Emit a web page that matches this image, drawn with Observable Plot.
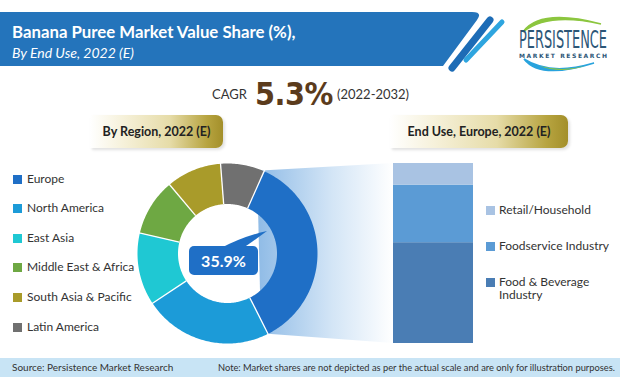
<!DOCTYPE html>
<html>
<head>
<meta charset="utf-8">
<script src="https://cdn.jsdelivr.net/npm/d3@7"></script>
<script src="https://cdn.jsdelivr.net/npm/@observablehq/plot@0.6"></script>
<style>
  html, body { margin: 0; padding: 0; background: #fff; }
  #wrap { position: relative; width: 620px; height: 377px; overflow: hidden; font-family: Lato, "Open Sans", sans-serif; color: #333; }
  .abs { position: absolute; white-space: nowrap; }
  .goldbox { position: absolute; height: 33px; border-radius: 0 7px 7px 0;
    background: linear-gradient(to right, rgba(255,255,255,0) 0%, #f6f1da 25%, #e6dca8 60%, #b7a440 88%, #a38f2a 100%);
    box-shadow: 2px 2px 3px rgba(0,0,0,0.12);
    font-weight: 700; font-size: 12.5px; color: #222; line-height: 33px; text-align: center; }
  .leg { position: absolute; font-size: 12px; color: #333; line-height: 14px; }
  .sq { position: absolute; width: 9px; height: 9px; }
</style>
</head>
<body>
<div id="wrap"></div>
<script>
// ---------- data ----------
const titleText = "Banana Puree Market Value Share (%),";
const subtitleText = "By End Use, 2022 (E)";
const cagrLabel = "CAGR";
const cagrValue = "5.3%";
const cagrPeriod = "(2022-2032)";
const leftPanelTitle = "By Region, 2022 (E)";
const rightPanelTitle = "End Use, Europe, 2022 (E)";
const sourceText = "Source: Persistence Market Research";
const noteText = "Note: Market shares are not depicted as per the actual scale and are only for illustration purposes.";

const regions = ["Europe", "North America", "East Asia", "Middle East & Africa", "South Asia & Pacific", "Latin America"];
const regionShares = [35.9, 23.1, 13.0, 10.2, 9.9, 7.9];
const regionColors = ["#1f6fc6", "#1c9bd8", "#1fc8d3", "#6ea843", "#a99b2a", "#707070"];
const highlightedRegion = "Europe";

const endUses = ["Food & Beverage Industry", "Foodservice Industry", "Retail/Household"];
const endUseShares = [56, 32, 12];
const endUseColors = ["#4a7db4", "#5b9bd5", "#a9c3e3"];
const endUseLegendOrder = ["Retail/Household", "Foodservice Industry", "Food & Beverage Industry"];
const endUseLegendLines = {"Retail/Household": ["Retail/Household"], "Foodservice Industry": ["Foodservice Industry"], "Food & Beverage Industry": ["Food & Beverage", "Industry"]};

// ---------- layout ----------
const wrap = document.getElementById("wrap");
const W = 620, H = 377;
const cx = 226.5, cy = 253, R = 90, innerFrac = 0.55;
const startDeg = 24;
const bar = {left: 393, top: 163, width: 80, height: 180};

function el(tag, cls, style, text) {
  const e = document.createElement(tag);
  if (cls) e.className = cls;
  Object.assign(e.style, style || {});
  if (text != null) e.textContent = text;
  wrap.appendChild(e);
  return e;
}

// donut data
const total = d3.sum(regionShares);
let acc = 0;
const slices = regions.map((r, i) => {
  const a0 = startDeg + acc / total * 360;
  acc += regionShares[i];
  const a1 = startDeg + acc / total * 360;
  return {region: r, share: regionShares[i], a0, a1};
});
const rad = d => d * Math.PI / 180;
const pts = [];
for (const s of slices) {
  const n = Math.max(2, Math.ceil(s.a1 - s.a0));
  for (let k = 0; k <= n; k++) { const a = s.a0 + (s.a1 - s.a0) * k / n; pts.push({region: s.region, x: Math.sin(rad(a)), y: Math.cos(rad(a))}); }
  for (let k = n; k >= 0; k--) { const a = s.a0 + (s.a1 - s.a0) * k / n; pts.push({region: s.region, x: innerFrac * Math.sin(rad(a)), y: innerFrac * Math.cos(rad(a))}); }
}
const seps = slices.map(s => ({x1: innerFrac * Math.sin(rad(s.a0)), y1: innerFrac * Math.cos(rad(s.a0)), x2: 1.02 * Math.sin(rad(s.a0)), y2: 1.02 * Math.cos(rad(s.a0))}));

// ---------- decoration svg (banner, connector, logo) ----------
const hi = slices.find(s => s.region === highlightedRegion);
const pA = [cx + R * Math.sin(rad(hi.a0)), cy - R * Math.cos(rad(hi.a0))];
const pB = [cx + R * Math.sin(rad(hi.a1)), cy - R * Math.cos(rad(hi.a1))];
const deco = d3.create("svg").attr("width", W).attr("height", H).style("position", "absolute").style("left", 0).style("top", 0);
const defs = deco.append("defs");
const g1 = defs.append("linearGradient").attr("id", "conn").attr("x1", 0).attr("x2", 1).attr("y1", 0).attr("y2", 0);
g1.append("stop").attr("offset", "0%").attr("stop-color", "#8fbbe6");
g1.append("stop").attr("offset", "55%").attr("stop-color", "#d3e5f6");
g1.append("stop").attr("offset", "100%").attr("stop-color", "#ffffff");
deco.append("polygon").attr("points", [[pA[0] - 6, pA[1]], [bar.left, bar.top], [bar.left, bar.top + bar.height], [pB[0] - 6, pB[1]]].map(p => p.join(",")).join(" ")).attr("fill", "url(#conn)");
// banner
deco.append("path").attr("d", "M0,12 L472,12 Q483,12 477,20 L443,66 L0,66 Z").attr("fill", "#2474bb");
deco.append("line").attr("x1", 452).attr("y1", 68).attr("x2", 490).attr("y2", 20).attr("stroke", "#1d6cb6").attr("stroke-width", 7).attr("stroke-linecap", "round");
deco.append("line").attr("x1", 466).attr("y1", 60).attr("x2", 502).attr("y2", 22).attr("stroke", "#2ea5df").attr("stroke-width", 5).attr("stroke-linecap", "round");
// logo
deco.append("path").attr("d", "M523,32 Q540,8 601,24 Q548,12 523,32 Z").attr("fill", "#8cc63f").attr("stroke", "#8cc63f").attr("stroke-width", 1.5);
deco.append("path").attr("d", "M524,59 Q540,80 594,63 Q550,76 524,59 Z").attr("fill", "#29a3dd").attr("stroke", "#29a3dd").attr("stroke-width", 1.5);
deco.append("path").attr("d", "M540,66 Q560,74 585,66 Q562,72 540,66 Z").attr("fill", "#8cc63f");
deco.append("text").attr("transform", "translate(519,48) scale(1,1.6)").attr("font-family", "'DejaVu Sans Condensed', sans-serif").attr("font-size", 15).attr("fill", "#2c5677").attr("textLength", 88).attr("lengthAdjust", "spacingAndGlyphs").text("PERSISTENCE");
deco.append("text").attr("x", 519).attr("y", 57.5).attr("font-family", "'DejaVu Sans', sans-serif").attr("font-weight", 700).attr("font-size", 6).attr("fill", "#2c5677").attr("textLength", 88).attr("lengthAdjust", "spacing").text("MARKET RESEARCH");
// footer band
deco.append("rect").attr("x", 0).attr("y", 358).attr("width", W).attr("height", 19).attr("fill", "#c8e4f5");
wrap.appendChild(deco.node());

// ---------- texts ----------
el("div", "abs", {left: "12px", top: "22px", color: "#fff", fontWeight: 700, fontSize: "16.8px", lineHeight: "20px"}, titleText);
el("div", "abs", {left: "12px", top: "44px", color: "#fff", fontStyle: "italic", fontSize: "14px", lineHeight: "17px"}, subtitleText);
el("div", "abs", {left: "212px", top: "86px", fontSize: "13px", color: "#333", lineHeight: "16px"}, cagrLabel);
el("div", "abs", {left: "255px", top: "76px", fontSize: "32px", fontWeight: 700, color: "#5b3b1c", lineHeight: "36px", fontFamily: "'DejaVu Sans Condensed', 'DejaVu Sans', sans-serif", letterSpacing: "-0.5px"}, cagrValue);
el("div", "abs", {left: "337px", top: "86px", fontSize: "13px", color: "#333", lineHeight: "16px"}, cagrPeriod);

el("div", "goldbox", {left: "90px", top: "115px", width: "133px"}, leftPanelTitle);
el("div", "goldbox", {left: "390px", top: "115px", width: "178px"}, rightPanelTitle);

// region legend
regions.forEach((r, i) => {
  const y = 179 + i * 29.6;
  el("div", "sq", {left: "13px", top: (y - 4.5) + "px", background: regionColors[i]});
  el("div", "leg", {left: "27px", top: (y - 7.5) + "px"}, r);
});
// end-use legend
const legY = {"Retail/Household": 210, "Foodservice Industry": 246, "Food & Beverage Industry": 282};
endUseLegendOrder.forEach(u => {
  const y = legY[u];
  el("div", "sq", {left: "486px", top: (y - 4.5) + "px", background: endUseColors[endUses.indexOf(u)]});
  endUseLegendLines[u].forEach((line, j) => el("div", "leg", {left: "499px", top: (y - 7.5 + j * 13.5) + "px"}, line));
});

// ---------- donut (Plot) ----------
const donut = Plot.plot({
  width: 2 * R + 4, height: 2 * R + 4, margin: 2,
  x: {domain: [-1, 1], axis: null},
  y: {domain: [-1, 1], axis: null},
  color: {domain: regions, range: regionColors},
  style: {background: "transparent", overflow: "visible"},
  marks: [
    Plot.line(pts, {x: "x", y: "y", z: "region", fill: "region", stroke: "none", curve: "linear-closed"}),
    Plot.link(seps, {x1: "x1", y1: "y1", x2: "x2", y2: "y2", stroke: "#ffffff", strokeWidth: 1.3})
  ]
});
Object.assign(donut.style, {position: "absolute", left: (cx - R - 2) + "px", top: (cy - R - 2) + "px"});
wrap.appendChild(donut);

// callout
const call = d3.create("svg").attr("width", W).attr("height", H).style("position", "absolute").style("left", 0).style("top", 0);
call.append("path").attr("d", "M221,248 Q244,236 267,231 Q252,242 243,248 Z").attr("fill", "#1f6fc6");
wrap.appendChild(call.node());
el("div", "abs", {left: "189px", top: "246px", width: "69px", height: "29px", borderRadius: "5px", background: "#1f6fc6", color: "#fff", fontWeight: 700, fontSize: "16px", lineHeight: "29px", textAlign: "center"}, regionShares[regions.indexOf(highlightedRegion)].toFixed(1) + "%");

// ---------- stacked bar (Plot) ----------
const endData = endUses.map((u, i) => ({market: highlightedRegion, use: u, share: endUseShares[i]}));
const barPlot = Plot.plot({
  width: bar.width, height: bar.height, margin: 0,
  x: {axis: null, padding: 0},
  y: {axis: null, domain: [0, d3.sum(endUseShares)]},
  color: {domain: endUses, range: endUseColors},
  style: {background: "transparent"},
  marks: [Plot.barY(endData, {x: "market", y: "share", fill: "use"})]
});
Object.assign(barPlot.style, {position: "absolute", left: bar.left + "px", top: bar.top + "px"});
wrap.appendChild(barPlot);

// ---------- footer ----------
el("div", "abs", {left: "12px", top: "361px", fontSize: "10px", color: "#333", lineHeight: "13px"}, sourceText);
el("div", "abs", {left: "218px", top: "361px", fontSize: "9.3px", color: "#333", lineHeight: "13px"}, noteText);
</script>
</body>
</html>
